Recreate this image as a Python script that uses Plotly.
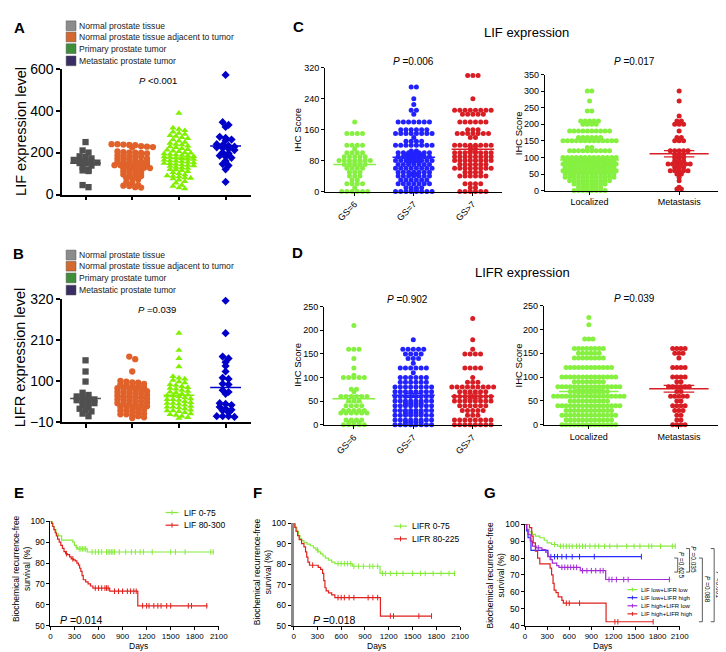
import numpy as np
import plotly.graph_objects as go

W, H = 726, 652
FONT = "Liberation Sans, Arial, sans-serif"

# ======================= DATA =======================
# Panel A: LIF expression level
A_group_names = ["Normal prostate tissue", "Normal prostate tissue adjacent to tumor",
                 "Primary prostate tumor", "Metastatic prostate tumor"]
A_normal = [250, 210, 200, 182, 178, 172, 165, 160, 158, 155, 152, 150, 148, 138, 132,
            118, 115, 112, 45, 35]
A_adjacent = [240, 238, 236, 240, 235, 228, 226, 230, 225, 205, 200, 198, 202, 200, 196,
              185, 183, 180, 186, 182, 170, 168, 172, 165, 170, 158, 155, 152, 156, 150,
              154, 142, 140, 138, 136, 144, 140, 135, 128, 125, 122, 120, 126, 110, 108,
              112, 105, 102, 95, 92, 90, 88, 78, 75, 72, 58, 55, 45, 42, 40, 35, 33]
A_primary = [388, 318, 312, 305, 298, 292, 288, 282, 278, 272, 268, 262, 255, 250, 245,
             240, 238, 232, 228, 225, 220, 215, 212, 208, 205, 200, 198, 195, 192, 190,
             188, 185, 182, 180, 178, 175, 172, 170, 168, 165, 162, 160, 158, 155, 152,
             150, 148, 145, 142, 140, 138, 135, 130, 128, 125, 120, 118, 115, 110, 105,
             100, 95, 90, 88, 85, 80, 78, 75, 70, 62, 55, 45, 40, 32, 28]
A_metastatic = [570, 345, 332, 322, 275, 270, 262, 258, 240, 236, 232, 228, 225, 222,
                218, 212, 200, 196, 185, 180, 175, 160, 145, 138, 120, 60]
A_pvalue = "<i>P</i> &lt;0.001"

# Panel B: LIFR expression level
B_normal = [155, 125, 98, 68, 62, 58, 55, 52, 50, 48, 45, 42, 40, 35, 30, 25, 22, 18, 12, 5]
B_adjacent = [165, 158, 125, 100, 98, 96, 95, 92, 90, 88, 86, 85, 82, 80, 80, 78, 76, 75,
              72, 70, 70, 68, 66, 65, 62, 60, 60, 58, 56, 55, 52, 50, 50, 48, 46, 45, 42,
              40, 40, 38, 36, 35, 32, 30, 30, 28, 25, 22, 20, 20, 18, 15, 12, 10, 10, 8,
              5, 2, 0]
B_primary = [228, 182, 160, 138, 112, 108, 105, 102, 98, 95, 90, 88, 85, 82, 80, 78, 75,
             72, 70, 68, 65, 62, 60, 60, 58, 55, 52, 50, 50, 48, 45, 42, 40, 40, 38, 35,
             32, 30, 30, 28, 25, 22, 20, 20, 18, 15, 12, 10, 8, 5, 2, 0]
B_metastatic = [315, 228, 165, 160, 150, 140, 125, 108, 105, 92, 90, 75, 70, 65, 40, 38,
                35, 30, 25, 22, 20, 15, 5, 5, 5, 3]
B_pvalue = "<i>P</i> =0.039"

# Panel C: LIF IHC score
GS_labels = ["GS=6", "GS=7", "GS>7"]
C_gs6_scores = [180, 150, 120, 110, 100, 90, 80, 70, 60, 50, 40, 30, 20, 10, 0]
C_gs6_counts = [1, 4, 4, 1, 4, 5, 7, 5, 4, 3, 3, 2, 4, 1, 6]
C_gs7_scores = [270, 240, 225, 210, 200, 180, 160, 150, 140, 130, 120, 105, 100, 95, 90,
                85, 80, 75, 70, 60, 50, 45, 40, 30, 20, 10, 5, 0]
C_gs7_counts = [2, 1, 1, 2, 1, 7, 6, 8, 1, 4, 8, 2, 7, 4, 7, 3, 8, 3, 7, 8, 7, 2, 7, 6,
                7, 4, 2, 8]
C_gs8_scores = [300, 240, 210, 200, 180, 160, 150, 140, 120, 110, 100, 90, 80, 70, 60,
                50, 40, 20, 10, 0]
C_gs8_counts = [3, 1, 8, 5, 6, 3, 7, 2, 8, 2, 8, 8, 8, 6, 8, 4, 6, 4, 2, 6]
C_gs_pvalue = "<i>P</i> =0.006"

Stage_labels = ["Localized", "Metastasis"]
C_loc_scores = [300, 270, 240, 210, 200, 180, 160, 150, 130, 120, 100, 90, 80, 70, 60,
                50, 40, 30, 20, 10, 0]
C_loc_counts = [2, 1, 2, 5, 4, 10, 6, 13, 2, 10, 13, 12, 13, 12, 13, 12, 12, 10, 8, 6, 8]
C_met_scores = [300, 270, 225, 210, 200, 180, 160, 150, 120, 110, 100, 90, 80, 70, 60,
                50, 40, 30, 10, 5]
C_met_counts = [1, 1, 1, 2, 3, 1, 2, 3, 5, 3, 3, 3, 6, 3, 5, 2, 1, 1, 1, 2]
C_stage_pvalue = "<i>P</i> =0.017"

# Panel D: LIFR IHC score
D_gs6_scores = [210, 160, 140, 120, 105, 100, 75, 70, 60, 50, 40, 30, 25, 10, 5, 0]
D_gs6_counts = [1, 3, 1, 1, 1, 5, 2, 1, 6, 3, 4, 5, 6, 4, 3, 5]
D_gs7_scores = [180, 160, 150, 140, 130, 120, 110, 100, 90, 80, 70, 60, 50, 45, 40, 30,
                25, 20, 10, 5, 0]
D_gs7_counts = [1, 5, 4, 3, 1, 6, 1, 6, 6, 8, 8, 8, 8, 4, 8, 8, 4, 8, 8, 4, 8]
D_gs8_scores = [225, 180, 160, 150, 120, 100, 90, 80, 70, 60, 50, 40, 30, 20, 10, 0]
D_gs8_counts = [1, 1, 1, 4, 4, 1, 3, 9, 6, 8, 8, 6, 5, 3, 8, 8]
D_gs_pvalue = "<i>P</i> =0.902"

D_loc_scores = [225, 210, 180, 160, 150, 140, 120, 100, 90, 80, 70, 60, 50, 40, 30, 20,
                10, 0]
D_loc_counts = [1, 1, 3, 8, 6, 8, 12, 14, 8, 16, 10, 18, 10, 16, 12, 14, 12, 14]
D_met_scores = [160, 150, 140, 120, 100, 90, 80, 70, 60, 50, 40, 30, 20, 10, 0]
D_met_counts = [4, 3, 1, 4, 4, 2, 6, 2, 5, 2, 4, 3, 2, 2, 4]
D_stage_pvalue = "<i>P</i> =0.039"

# Panel E: KM by LIF
E_low_t = [0, 25, 45, 70, 100, 140, 280, 300, 320, 340, 460, 2040]
E_low_s = [100, 97.5, 96, 94, 93, 91, 90, 88.5, 87.5, 86.8, 85.3, 85.3]
E_low_cens = [330, 360, 380, 400, 420, 440, 520, 560, 600, 640, 700, 720, 740, 760, 780,
              800, 860, 940, 1010, 1060, 1120, 1160, 1270, 1500, 1560, 1680, 2000, 2030]
E_high_t = [0, 15, 30, 45, 60, 75, 90, 110, 130, 150, 170, 190, 210, 240, 260, 290, 310,
            330, 350, 365, 380, 395, 410, 440, 470, 500, 530, 740, 1090, 1960]
E_high_s = [100, 99, 97.5, 96, 94.5, 93, 91.5, 90, 88.5, 87, 85.5, 84.5, 84, 83, 82, 81.5,
            81, 80, 79, 77.5, 76, 74, 72, 71, 70, 69, 68, 66.5, 59.5, 59.5]
E_high_cens = [200, 280, 560, 600, 640, 680, 700, 720, 800, 850, 900, 960, 1000, 1040,
               1070, 1150, 1200, 1230, 1290, 1340, 1380, 1450, 1500, 1720, 1760, 1950]
E_names = ["LIF 0-75", "LIF 80-300"]
E_pvalue = "<i>P</i> =0.014"

# Panel F: KM by LIFR
F_low_t = [0, 20, 40, 60, 80, 100, 130, 170, 210, 250, 280, 310, 340, 370, 400, 440, 480,
           520, 740, 1090, 2040]
F_low_s = [100, 98, 96, 94, 92.5, 91.5, 90.5, 89.8, 89, 88, 87, 86, 85, 84, 83, 82, 81,
           80.3, 79, 75.5, 75.5]
F_low_cens = [300, 560, 600, 640, 680, 720, 760, 820, 880, 960, 1000, 1060, 1120, 1160,
              1220, 1300, 1380, 1500, 1600, 1660, 1760, 1860, 1960, 2030]
F_high_t = [0, 15, 30, 50, 70, 100, 130, 150, 165, 180, 200, 310, 340, 365, 380, 395, 410,
            440, 480, 520, 1095, 1740]
F_high_s = [100, 98, 96, 94, 92, 90, 88.5, 86, 83.5, 81, 79.5, 78.5, 77.5, 75.5, 72, 68.5,
            67, 66, 65, 63.7, 54.7, 54.7]
F_high_cens = [240, 560, 600, 640, 700, 760, 940, 1000, 1060, 1220, 1260, 1580, 1740]
F_names = ["LIFR 0-75", "LIFR 80-225"]
F_pvalue = "<i>P</i> =0.018"

# Panel G: KM by LIF/LIFR combination
G_names = ["LIF low+LIFR low", "LIF low+LIFR high", "LIF high+LIFR low", "LIF high+LIFR high"]
G_ll_t = [0, 30, 60, 100, 140, 200, 260, 300, 360, 440, 2040]
G_ll_s = [100, 97, 95.5, 94, 93, 92, 90.5, 89, 88, 87, 87]
G_ll_cens = [400, 480, 520, 560, 600, 640, 700, 740, 780, 820, 880, 950, 1000, 1080, 1150,
             1250, 1380, 1480, 1560, 1680, 1720, 1840, 2000, 2040]
G_lh_t = [0, 20, 40, 80, 310, 1580]
G_lh_s = [100, 96, 92, 84.5, 80.8, 80.8]
G_lh_cens = [350, 400, 440, 500, 560, 640, 740, 940, 1580]
G_hl_t = [0, 20, 40, 70, 100, 150, 230, 280, 310, 340, 370, 430, 460, 750, 1095, 1960]
G_hl_s = [100, 97, 94, 90, 87, 86, 85, 83.5, 81, 79, 77, 75.5, 74.5, 72.5, 67.3, 67.3]
G_hl_cens = [180, 500, 540, 580, 620, 660, 700, 780, 840, 900, 960, 1020, 1060, 1140, 1180,
             1240, 1340, 1400, 1960]
G_hh_t = [0, 60, 90, 110, 140, 170, 200, 340, 360, 380, 395, 420, 450, 500, 520, 1100, 1740]
G_hh_s = [100, 98, 93, 89, 84, 80, 76.5, 74, 70, 65, 61, 59.5, 57, 55, 53.3, 42.3, 42.3]
G_hh_cens = [560, 600, 740, 1220, 1260, 1740]
G_pairs = ["<i>P</i> =0.625", "<i>P</i> =0.035", "<i>P</i> =0.088", "<i>P</i> &lt;0.001"]

# ======================= STYLE =======================
GRAY_M, ORANGE_M, GREEN_M, BLUE_M = "#505050", "#e0622a", "#80f000", "#0000c8"
LEG_COLORS = ["#8c8c8c", "#d4692f", "#3e8e3a", "#3a2d63"]
C_GREEN, C_BLUE, C_RED = "#86f040", "#2222ff", "#d81e24"
K_GREEN, K_RED, K_BLUE, K_PURPLE = "#86ea3c", "#e0201c", "#2a2aff", "#a32ad8"

fig = go.Figure()
layout_axes = {}


def dom_x(x0, x1):
    return [x0 / W, x1 / W]


def dom_y(y0, y1):
    return [1 - y1 / H, 1 - y0 / H]


def px(x):
    return x / W


def py(y):
    return 1 - y / H


BASE = dict(showline=True, linecolor="black", linewidth=1, showgrid=False, zeroline=False,
            ticks="outside", ticklen=3, tickwidth=1, tickcolor="black", fixedrange=True)


def panel(n, xpx, ypx, xr, yr, xkw, ykw):
    s = "" if n == 1 else str(n)
    xa = dict(BASE); xa.update(domain=dom_x(*xpx), anchor="y" + s, range=xr); xa.update(xkw)
    ya = dict(BASE); ya.update(domain=dom_y(*ypx), anchor="x" + s, range=yr); ya.update(ykw)
    layout_axes["xaxis" + s] = xa
    layout_axes["yaxis" + s] = ya
    return "x" + s, "y" + s, (xpx[1] - xpx[0]) / (xr[1] - xr[0])


def tf(size):
    return dict(family=FONT, size=size, color="black")


def swarm(values, bin_units, step):
    vals = sorted(values, reverse=True)
    rows = []
    for v in vals:
        if rows and rows[-1][0] - v <= bin_units:
            rows[-1][1].append(v)
        else:
            rows.append([v, [v]])
    xs, ys = [], []
    for _, r in rows:
        n = len(r)
        for j, v in enumerate(r):
            xs.append((j - (n - 1) / 2) * step)
            ys.append(v)
    return np.array(xs), np.array(ys)


def dot_group(xa, ya, center, values, color, symbol, size, bin_units, step, half,
              lw=1.5, sem=False, cap=0.15):
    xs, ys = swarm(values, bin_units, step)
    fig.add_trace(go.Scatter(x=center + xs, y=ys, mode="markers", xaxis=xa, yaxis=ya,
                             marker=dict(symbol=symbol, size=size, color=color, line=dict(width=0)),
                             cliponaxis=False, showlegend=False, hoverinfo="skip"))
    m = float(np.mean(values))
    fig.add_trace(go.Scatter(x=[center - half, center + half], y=[m, m], mode="lines",
                             xaxis=xa, yaxis=ya, line=dict(color=color, width=lw),
                             cliponaxis=False, showlegend=False, hoverinfo="skip"))
    if sem:
        s = float(np.std(values, ddof=1) / np.sqrt(len(values)))
        fig.add_trace(go.Scatter(
            x=[center, center, None, center - cap, center + cap, None, center - cap, center + cap],
            y=[m - s, m + s, None, m + s, m + s, None, m - s, m - s], mode="lines",
            xaxis=xa, yaxis=ya, line=dict(color=color, width=1.2), cliponaxis=False,
            showlegend=False, hoverinfo="skip"))


def km(xa, ya, t, s, cens, color, width=1.2):
    t = np.array(t, float); s = np.array(s, float)
    fig.add_trace(go.Scatter(x=t, y=s, mode="lines", xaxis=xa, yaxis=ya,
                             line=dict(color=color, width=width, shape="hv"),
                             cliponaxis=False, showlegend=False, hoverinfo="skip"))
    cs = [s[max(np.searchsorted(t, c, side="right") - 1, 0)] for c in cens]
    fig.add_trace(go.Scatter(x=cens, y=cs, mode="markers", xaxis=xa, yaxis=ya,
                             marker=dict(symbol="line-ns", size=4, line=dict(color=color, width=1)),
                             cliponaxis=False, showlegend=False, hoverinfo="skip"))


def text(x, y, s, size=9, xanchor="center", yanchor="middle", angle=0, color="black"):
    fig.add_annotation(x=px(x), y=py(y), xref="paper", yref="paper", text=s, showarrow=False,
                       font=dict(family=FONT, size=size, color=color), xanchor=xanchor,
                       yanchor=yanchor, textangle=angle, borderpad=0)


def hline_px(x0, x1, y, color, width=1.2):
    fig.add_shape(type="line", xref="paper", yref="paper", x0=px(x0), x1=px(x1),
                  y0=py(y), y1=py(y), line=dict(color=color, width=width))


def vline_px(x, y0, y1, color, width=1):
    fig.add_shape(type="line", xref="paper", yref="paper", x0=px(x), x1=px(x),
                  y0=py(y0), y1=py(y1), line=dict(color=color, width=width))


def expand(scores, counts):
    return list(np.repeat(scores, counts))


# ======================= PANEL A =======================
xa, ya, ppc = panel(1, (53, 245), (54, 183), [-0.5, 3.55], [0, 600],
                    dict(tickvals=[0, 1, 2, 3], showticklabels=False, ticklen=4, linewidth=1.5, tickwidth=1.5),
                    dict(tickvals=[0, 200, 400, 600], tickfont=tf(14), ticklen=4, linewidth=1.5, tickwidth=1.5))
stp = 6.0 / ppc
for i, (vals, col, sym) in enumerate([(A_normal, GRAY_M, "square"), (A_adjacent, ORANGE_M, "circle"),
                                      (A_primary, GREEN_M, "triangle-up"), (A_metastatic, BLUE_M, "diamond")]):
    dot_group(xa, ya, i, vals, col, sym, 6.3, 14, stp, 0.33)
text(150, 66, A_pvalue, 9.5)
text(11, 118, "LIF expression level", 14.5, angle=-90)

# ======================= PANEL B =======================
xa, ya, ppc = panel(2, (53, 245), (290, 416), [-0.5, 3.55], [-10, 320],
                    dict(tickvals=[0, 1, 2, 3], showticklabels=False, ticklen=4, linewidth=1.5, tickwidth=1.5),
                    dict(tickvals=[-10, 100, 210, 320], tickfont=tf(14), ticklen=4, linewidth=1.5, tickwidth=1.5))
for i, (vals, col, sym) in enumerate([(B_normal, GRAY_M, "square"), (B_adjacent, ORANGE_M, "circle"),
                                      (B_primary, GREEN_M, "triangle-up"), (B_metastatic, BLUE_M, "diamond")]):
    dot_group(xa, ya, i, vals, col, sym, 6.3, 9, stp, 0.33)
text(149, 301, B_pvalue, 9.5)
text(11, 350, "LIFR expression level", 14.5, angle=-90)

# legends for A and B
for ytop in (10, 245):
    gap = [0, 11.5, 23.5, 36]
    for k, name in enumerate(A_group_names):
        yc = ytop + gap[k]
        fig.add_shape(type="rect", xref="paper", yref="paper", x0=px(57), x1=px(67),
                      y0=py(yc + 5), y1=py(yc - 5), fillcolor=LEG_COLORS[k],
                      line=dict(color="#555555", width=0.5))
        text(69, yc, name, 8.6, xanchor="left", color="#222222")

# ======================= PANEL C =======================
xa, ya, ppc = panel(3, (320, 500), (53, 180), [-0.5, 2.5], [0, 320],
                    dict(tickvals=[0, 1, 2], ticktext=GS_labels, tickangle=-45, tickfont=tf(9)),
                    dict(tickvals=[0, 80, 160, 240, 320], tickfont=tf(9)))
stp = 5.3 / ppc
for i, (sc, ct, col) in enumerate([(C_gs6_scores, C_gs6_counts, C_GREEN), (C_gs7_scores, C_gs7_counts, C_BLUE),
                                   (C_gs8_scores, C_gs8_counts, C_RED)]):
    dot_group(xa, ya, i, expand(sc, ct), col, "circle", 5, 0.5, stp, 0.36, sem=True, cap=0.14)
text(410, 47, C_gs_pvalue, 10)
text(292, 117, "IHC Score", 9.5, angle=-90)

xa, ya, ppc = panel(4, (543, 724), (60, 179), [-0.5, 1.49], [0, 350],
                    dict(tickvals=[0, 1], ticktext=Stage_labels, tickfont=tf(9)),
                    dict(tickvals=list(range(0, 351, 50)), tickfont=tf(9)))
stp = 4.5 / ppc
for i, (sc, ct, col) in enumerate([(C_loc_scores, C_loc_counts, C_GREEN), (C_met_scores, C_met_counts, C_RED)]):
    dot_group(xa, ya, i, expand(sc, ct), col, "circle", 5, 0.5, stp, 0.33, sem=True, cap=0.17)
text(634, 47, C_stage_pvalue, 10)
text(516, 120, "IHC Score", 9.5, angle=-90)
text(524, 17, "LIF expression", 13)

# ======================= PANEL D =======================
xa, ya, ppc = panel(5, (319, 500), (298, 419), [-0.5, 2.5], [0, 250],
                    dict(tickvals=[0, 1, 2], ticktext=GS_labels, tickangle=-45, tickfont=tf(9)),
                    dict(tickvals=list(range(0, 251, 50)), tickfont=tf(9)))
stp = 5.3 / ppc
for i, (sc, ct, col) in enumerate([(D_gs6_scores, D_gs6_counts, C_GREEN), (D_gs7_scores, D_gs7_counts, C_BLUE),
                                   (D_gs8_scores, D_gs8_counts, C_RED)]):
    dot_group(xa, ya, i, expand(sc, ct), col, "circle", 5, 0.5, stp, 0.36, sem=True, cap=0.14)
text(404, 291, D_gs_pvalue, 10)
text(292, 358, "IHC Score", 9.5, angle=-90)

xa, ya, ppc = panel(6, (542, 724), (297, 419), [-0.5, 1.49], [0, 250],
                    dict(tickvals=[0, 1], ticktext=Stage_labels, tickfont=tf(9)),
                    dict(tickvals=list(range(0, 251, 50)), tickfont=tf(9)))
stp = 4.2 / ppc
for i, (sc, ct, col) in enumerate([(D_loc_scores, D_loc_counts, C_GREEN), (D_met_scores, D_met_counts, C_RED)]):
    dot_group(xa, ya, i, expand(sc, ct), col, "circle", 5, 0.5, stp, 0.33, sem=True, cap=0.17)
text(634, 290, D_stage_pvalue, 10)
text(516, 358, "IHC Score", 9.5, angle=-90)
text(520, 263, "LIFR expression", 13)

# ======================= PANELS E, F, G =======================
km_x = dict(tickvals=list(range(0, 2101, 300)), tickfont=tf(8))
xa, ya, _ = panel(7, (41, 212), (518, 625), [0, 2100], [50, 100], km_x,
                  dict(tickvals=list(range(50, 101, 10)), tickfont=tf(8.5)))
km(xa, ya, E_low_t, E_low_s, E_low_cens, K_GREEN)
km(xa, ya, E_high_t, E_high_s, E_high_cens, K_RED)
text(73, 619, E_pvalue, 10.5)
text(130, 646, "Days", 8.5)
text(11, 566, "Biochemical recurrence-free<br>survival (%)", 8.5, angle=-90)
for k, (nm, col) in enumerate(zip(E_names, [K_GREEN, K_RED])):
    yy = 509 + 13 * k
    hline_px(158, 171, yy, col)
    vline_px(164.5, yy - 2.5, yy + 2.5, col)
    text(176, yy, nm, 8.5, xanchor="left")

xa, ya, _ = panel(8, (288, 457), (520, 625), [0, 2100], [50, 100], km_x,
                  dict(tickvals=list(range(50, 101, 10)), tickfont=tf(8.5), linecolor="#8a8a8a", linewidth=3))
km(xa, ya, F_low_t, F_low_s, F_low_cens, K_GREEN)
km(xa, ya, F_high_t, F_high_s, F_high_cens, K_RED)
text(329, 619, F_pvalue, 10.5)
text(372, 646, "Days", 8.5)
text(256, 570, "Biochemical recurrence-free<br>survival (%)", 8.5, angle=-90)
for k, (nm, col) in enumerate(zip(F_names, [K_GREEN, K_RED])):
    yy = 523 + 13 * k
    hline_px(390, 403, yy, col)
    vline_px(396.5, yy - 2.5, yy + 2.5, col)
    text(407, yy, nm, 8.5, xanchor="left")

xa, ya, _ = panel(9, (523, 680), (521, 625), [0, 2100], [40, 100], km_x,
                  dict(tickvals=list(range(40, 101, 10)), tickfont=tf(8.5)))
g_cols = [K_GREEN, K_BLUE, K_PURPLE, K_RED]
for (t, s, c), col in zip([(G_ll_t, G_ll_s, G_ll_cens), (G_lh_t, G_lh_s, G_lh_cens),
                           (G_hl_t, G_hl_s, G_hl_cens), (G_hh_t, G_hh_s, G_hh_cens)], g_cols):
    km(xa, ya, t, s, c, col)
text(602, 646, "Days", 8.5)
text(493, 573, "Biochemical recurrence-free<br>survival (%)", 8.5, angle=-90)
for k, (nm, col) in enumerate(zip(G_names, g_cols)):
    yy = 588 + 8.3 * k
    hline_px(627, 637, yy, col)
    vline_px(632, yy - 2, yy + 2, col)
    text(640, yy, nm, 6, xanchor="left")

# pairwise comparison brackets (pixel positions of bracket, y in survival %)
bracket_x = [678, 690, 703, 715]
bracket_y = [(80, 71.7), (85.6, 71.7), (80, 42.3), (85.6, 42.3)]
for bx, (yt, yb), lab in zip(bracket_x, bracket_y, G_pairs):
    for yv in (yt, yb):
        fig.add_shape(type="line", xref="paper", yref="y9", x0=px(bx - 3.5), x1=px(bx),
                      y0=yv, y1=yv, line=dict(color="#333333", width=0.8))
    fig.add_shape(type="line", xref="paper", yref="y9", x0=px(bx), x1=px(bx),
                  y0=yt, y1=yb, line=dict(color="#333333", width=0.8))
    fig.add_annotation(x=px(bx + 4.5), y=(yt + yb) / 2, xref="paper", yref="y9", text=lab,
                       showarrow=False, textangle=90, font=tf(6.5), xanchor="center",
                       yanchor="middle", borderpad=0)

# panel letters
for lab, x, y in [("A", 10, 12), ("B", 9, 243), ("C", 293, 11), ("D", 292, 242),
                  ("E", 9, 488), ("F", 251, 488), ("G", 487, 488)]:
    text(x, y, "<b>%s</b>" % lab, 15)

fig.update_layout(width=W, height=H, margin=dict(l=0, r=0, t=0, b=0),
                  paper_bgcolor="white", plot_bgcolor="white", showlegend=False,
                  font=dict(family=FONT, color="black"), **layout_axes)
fig.write_html("out.html")
